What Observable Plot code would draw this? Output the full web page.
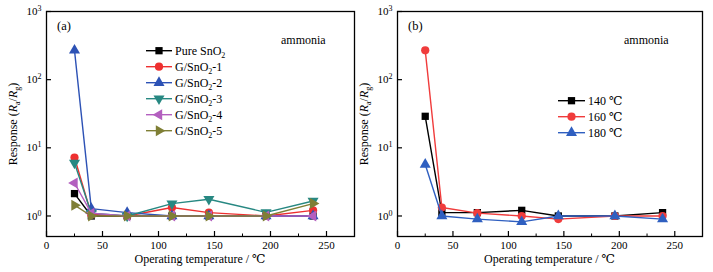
<!DOCTYPE html>
<html><head><meta charset="utf-8">
<script src="https://cdn.jsdelivr.net/npm/d3@7"></script>
<script src="https://cdn.jsdelivr.net/npm/@observablehq/plot@0.6"></script>
<style>
body{margin:0;background:#fff;}
#wrap{display:flex;width:713px;height:272px;}
svg text{font-family:"Liberation Serif","Times New Roman",Times,"DejaVu Serif",serif;}
</style></head>
<body><div id="wrap"></div>
<script>
// ---- data ----
const tempsA = [25, 40, 72, 112, 145, 196, 238];
const tempsB = [25, 40, 72, 112, 145, 196, 239];
const namesA = ["Pure SnO2", "G/SnO2-1", "G/SnO2-2", "G/SnO2-3", "G/SnO2-4", "G/SnO2-5"];
const pureSnO2 = [2.13, 1.0, 1.0, 1.0, 1.0, 1.0, 1.0];
const gSnO2_1 = [7.2, 1.05, 1.0, 1.33, 1.12, 1.0, 1.21];
const gSnO2_2 = [269, 1.28, 1.12, 1.0, 1.0, 1.0, 1.0];
const gSnO2_3 = [6.0, 1.1, 1.0, 1.52, 1.76, 1.13, 1.66];
const gSnO2_4 = [3.05, 1.1, 1.0, 1.0, 1.0, 1.0, 1.0];
const gSnO2_5 = [1.44, 1.0, 1.0, 1.0, 1.0, 1.0, 1.52];
const namesB = ["140 ℃", "160 ℃", "180 ℃"];
const t140 = [29, 1.12, 1.12, 1.21, 1.0, 1.0, 1.12];
const t160 = [269, 1.33, 1.1, 1.0, 0.9, 1.0, 1.0];
const t180 = [5.7, 1.0, 0.9, 0.82, 1.0, 1.0, 0.9];
const xTicks = [0, 50, 100, 150, 200, 250];
const xMinor = [25, 75, 125, 175, 225, 275];
const yTicks = [1, 10, 100, 1000];

const FONT = '"Liberation Serif","Times New Roman",Times,"DejaVu Serif",serif';

// ---- symbols ----
function tri(angle) {
  return {draw(ctx, size) {
    const y = -Math.sqrt(size / (Math.sqrt(3) * 3));
    const pts = [[0, y * 2], [-Math.sqrt(3) * y, -y], [Math.sqrt(3) * y, -y]];
    const c = Math.cos(angle), s = Math.sin(angle);
    pts.forEach(([px, py], i) => {
      const X = px * c - py * s, Y = px * s + py * c;
      i ? ctx.lineTo(X, Y) : ctx.moveTo(X, Y);
    });
    ctx.closePath();
  }};
}
const sq = {draw(ctx, size){ const w = Math.sqrt(size); ctx.rect(-w/2, -w/2, w, w); }};
const circ = {draw(ctx, size){ const r = Math.sqrt(size/Math.PI); ctx.moveTo(r,0); ctx.arc(0,0,r,0,2*Math.PI); }};
const symA = [sq, circ, tri(0), tri(Math.PI), tri(-Math.PI/2), tri(Math.PI/2)];
const colA = ["#000000", "#ee3030", "#2d52b5", "#278882", "#b35fbf", "#7f7f35"];
const symB = [sq, circ, tri(0)];
const colB = ["#000000", "#f03c3c", "#2f5fc0"];

function panel(opts) {
  const {width, ml, mr, temps, series, names, syms, cols, tag, legend, ammoniaX} = opts;
  const marks = [];
  series.forEach((vals, i) => {
    const data = temps.map((t, j) => ({t, v: vals[j]}));
    marks.push(Plot.line(data, {x: "t", y: "v", stroke: cols[i], strokeWidth: 1.4}));
    marks.push(Plot.dot(data, {x: "t", y: "v", fill: cols[i], stroke: "none", r: 4.1, symbol: syms[i]}));
  });
  marks.push(Plot.frame({stroke: "#000", strokeWidth: 1.3}));
  marks.push(Plot.axisX(xTicks, {tickSize: -5, tickFormat: () => "", strokeWidth: 1.2, label: null}));
  marks.push(Plot.axisX(xMinor, {tickSize: -2.5, tickFormat: () => "", strokeWidth: 1, label: null}));
  marks.push(Plot.axisX(xTicks, {tickSize: 0, tickPadding: 5, fontSize: 11, label: null}));
  marks.push(Plot.axisY(yTicks, {tickSize: -5, tickFormat: () => "", strokeWidth: 1.2, label: null}));
  marks.push(Plot.axisY(yTicks, {tickSize: 0, tickPadding: 5, fontSize: 11, label: null, tickFormat: d => "10^" + Math.round(Math.log10(d))}));
  const svg = Plot.plot({
    width, height: 272, marginLeft: ml, marginRight: mr, marginTop: 11, marginBottom: 36,
    style: {background: "transparent", fontFamily: FONT, color: "#000", overflow: "visible"},
    x: {domain: [0, 275]},
    y: {type: "log", domain: [0.5, 1000]},
    marks
  });
  const s = d3.select(svg);
  s.selectAll("text").each(function() {
    const t = this.textContent;
    if (/^10\^\d$/.test(t)) {
      const sel = d3.select(this);
      sel.text("10");
      sel.append("tspan").attr("dy", "-0.5em").attr("font-size", "8px").text(t.slice(3));
    }
  });
  const x0 = ml, x1 = width - mr;
  const txt = (x, y, size, anchor) => s.append("text").attr("x", x).attr("y", y)
    .attr("text-anchor", anchor).attr("font-size", size).attr("font-family", FONT).attr("fill", "#000");
  txt((x0 + x1) / 2, 263, 12, "middle").text("Operating temperature / ℃");
  const yl = s.append("text").attr("transform", `translate(${ml - 29},${124}) rotate(-90)`)
    .attr("text-anchor", "middle").attr("font-size", 12).attr("font-family", FONT);
  yl.append("tspan").text("Response (");
  yl.append("tspan").attr("font-style", "italic").text("R");
  yl.append("tspan").attr("font-size", 8).attr("dy", 3).text("a");
  yl.append("tspan").attr("dy", -3).text("/");
  yl.append("tspan").attr("font-style", "italic").text("R");
  yl.append("tspan").attr("font-size", 8).attr("dy", 3).text("g");
  yl.append("tspan").attr("dy", -3).text(")");
  txt(ml + 11, 30, 12.5, "start").text(tag);
  txt(ammoniaX, 44, 12, "start").text("ammonia");
  names.forEach((n, i) => {
    const y = legend.y + i * 16;
    s.append("line").attr("x1", legend.x1).attr("x2", legend.x2).attr("y1", y).attr("y2", y)
      .attr("stroke", cols[i]).attr("stroke-width", 1.4);
    const p = d3.path(); syms[i].draw(p, Math.PI * 4.1 * 4.1);
    s.append("path").attr("d", p.toString()).attr("transform", `translate(${(legend.x1 + legend.x2) / 2},${y})`).attr("fill", cols[i]);
    const tx = txt(legend.tx, y + 4, 12, "start");
    const m = n.match(/^(.*SnO)2(.*)$/);
    if (m) {
      tx.append("tspan").text(m[1]);
      tx.append("tspan").attr("font-size", 8).attr("dy", 3).text("2");
      tx.append("tspan").attr("dy", -3).text(m[2]);
    } else tx.text(n);
  });
  return svg;
}

const wrap = document.getElementById("wrap");
wrap.appendChild(panel({
  width: 355, ml: 46, mr: 1, temps: tempsA,
  series: [pureSnO2, gSnO2_1, gSnO2_2, gSnO2_3, gSnO2_4, gSnO2_5],
  names: namesA, syms: symA, cols: colA, tag: "(a)", ammoniaX: 281,
  legend: {x1: 146, x2: 172, tx: 175, y: 50.7}
}));
wrap.appendChild(panel({
  width: 358, ml: 42, mr: 11, temps: tempsB,
  series: [t140, t160, t180],
  names: namesB, syms: symB, cols: colB, tag: "(b)", ammoniaX: 269,
  legend: {x1: 203, x2: 230, tx: 233, y: 100.7}
}));
</script></body></html>
